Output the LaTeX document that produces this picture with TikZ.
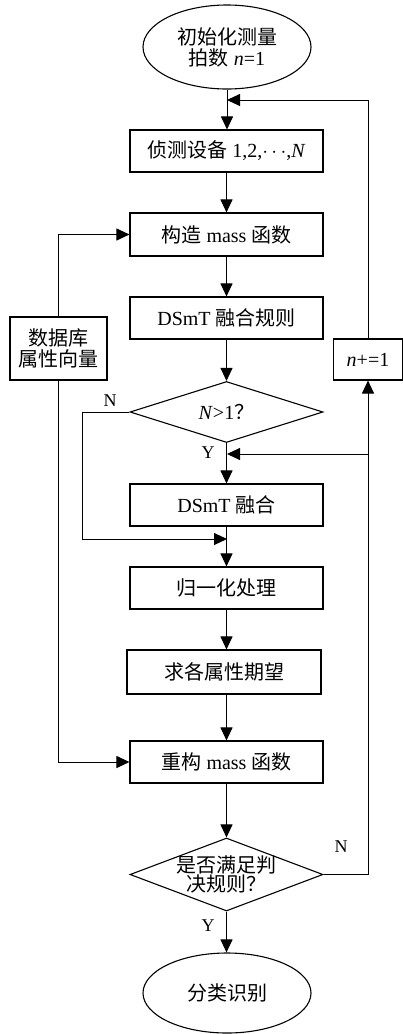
\documentclass[tikz,border=0pt]{standalone}
\usepackage{fontspec}
\setmainfont{Liberation Serif}
\newfontfamily\cjk{Noto Sans CJK SC}
\usetikzlibrary{shapes.geometric,arrows.meta}
\newcommand\zh[1]{{\cjk #1}}
\begin{document}
\begin{tikzpicture}[x=1pt,y=-1pt,
  every node/.style={font=\fontsize{20}{21}\selectfont},
  box/.style={draw, line width=1.1pt, rectangle, minimum width=193pt, minimum height=42pt, inner sep=0pt},
  term/.style={draw, line width=1.1pt, ellipse, minimum width=168pt, minimum height=84pt, inner sep=0pt, align=center},
  dia/.style={draw, line width=1.1pt, diamond, minimum width=193pt, inner sep=0pt},
  flow/.style={line width=1pt, -{Triangle[length=13pt,width=12pt]}},
  lab/.style={inner sep=0pt},
  ynlab/.style={inner sep=0pt, font=\fontsize{18}{20}\selectfont}
]
\useasboundingbox (0,0) rectangle (403,1034);

\node[term] (start) at (227,47) {\zh{初始化测量}\\\zh{拍数} \textit{n}=1};
\node[box] (b1) at (226.5,151) {\zh{侦测设备} 1,2,$\cdots$,\textit{N}};
\node[box, minimum height=43pt] (b2) at (226.5,234.5) {\zh{构造} mass \zh{函数}};
\node[box] (b3) at (226.5,318) {DSmT \zh{融合规则}};
\node[dia, minimum height=61pt, label={[lab]center:\textit{N}>1\zh{？}}] (d1) at (226.5,412) {};
\node[box] (b4) at (226.5,505) {DSmT \zh{融合}};
\node[box] (b5) at (226.5,588) {\zh{归一化处理}};
\node[box, minimum width=194pt, minimum height=44pt] (b6) at (224,672) {\zh{求各属性期望}};
\node[box] (b7) at (226.5,762) {\zh{重构} mass \zh{函数}};
\node[dia, minimum height=73pt, label={[lab,align=center,font=\fontsize{20}{18}\selectfont]center:\zh{是否满足判}\\\zh{决规则？}}] (d2) at (226.5,874.5) {};
\node[term, minimum height=80pt] (end) at (227,993) {\zh{分类识别}};
\node[box, minimum width=97pt, minimum height=63pt, align=center] (db) at (58.5,348.5) {\zh{数据库}\\\zh{属性向量}};
\node[box, minimum width=69pt, minimum height=41pt] (inc) at (368,359.5) {\textit{n}+=1};

\coordinate (j1) at (227,100);
\coordinate (j3) at (227,454);
\coordinate (j2) at (227,539);

\draw[flow] (start.south) -- (start.south |- b1.north);
\draw[flow] (inc.north) |- (j1);
\draw[flow] (b1) -- (b2);
\draw[flow] (b2) -- (b3);
\draw[flow] (b3) -- (d1);
\draw[flow] (d1.south) -- (b4.north);
\draw[flow] (d1.west) -- ++(-47,0) |- (j2);
\draw[flow] (b4.south) -- (b5.north);
\draw[flow] (b5.south) -- (b5.south |- b6.north);
\draw[flow] (b5.south |- b6.south) -- (b7.north);
\draw[flow] (b7) -- (d2);
\draw[flow] (d2.south) -- (d2.south |- end.north);
\draw[flow] (d2.east) -| (inc.south);
\draw[flow] (inc.south |- j3) -- (j3);
\draw[flow] (db.north) |- (b2.west);
\draw[flow] (db.south) |- (b7.west);

\node[ynlab] (nl1) at (110,401) {N};
\node[ynlab] (yl1) at (208,453) {Y};
\node[ynlab] (nl2) at (341,847) {N};
\node[ynlab] (yl2) at (208,926) {Y};
\end{tikzpicture}
\end{document}
